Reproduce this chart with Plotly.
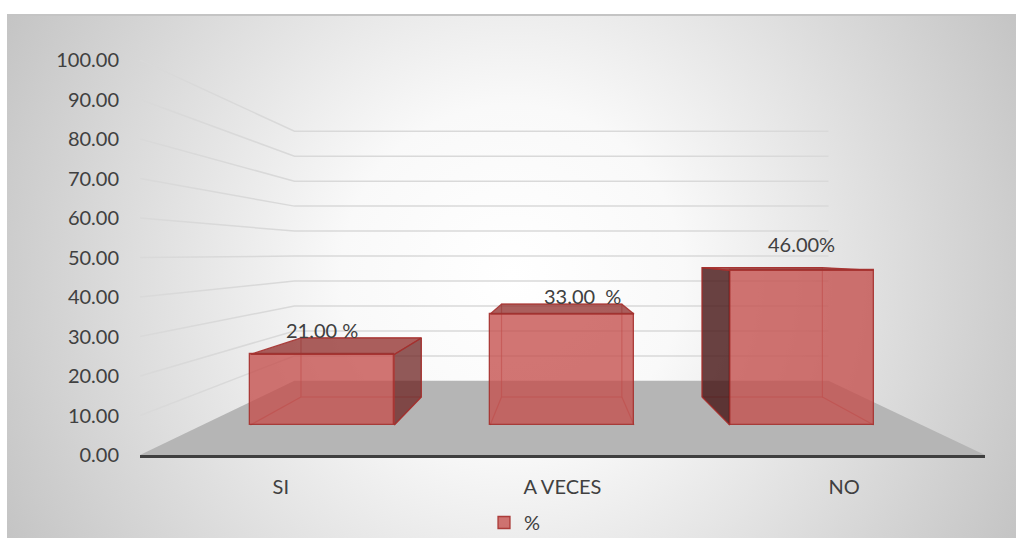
import base64
import plotly.graph_objects as go

# ---------------- data ----------------
categories = ["SI", "A VECES", "NO"]
values = [21.0, 33.0, 46.0]
value_labels = ["21.00 %", "33.00\u00a0\u00a0%", "46.00%"]
y_tick_values = [0, 10, 20, 30, 40, 50, 60, 70, 80, 90, 100]
series_name = "%"

# ---------------- 3D look (perspective) ----------------
VPX, VPY = 0.99, 51.0          # vanishing point in axis units
S_FRONT = 1.0                  # front plane (axis plane)
S_BAR_FRONT = 0.851            # depth scale of bar front faces
S_BAR_BACK = 0.712             # depth scale of bar back faces
S_WALL = 0.632                 # depth scale of back wall
BAR_W = 0.60
X_MIN, X_MAX = -0.5, 2.5

FRONT_FILL = "rgba(196,78,75,0.78)"
TOP_FILL = "rgba(150,55,52,0.80)"
RSIDE_FILL = "rgba(110,35,33,0.75)"
LSIDE_FILL = "rgba(70,20,20,0.80)"
EDGE = "rgba(165,48,45,0.90)"
HIDDEN_EDGE = "rgba(175,60,57,0.55)"
FLOOR = "#b5b5b5"
GRID = "#d9d9d9"
TEXT = "#404040"
FONT = "Lato, Carlito, Calibri, sans-serif"


def proj(X, Y, s):
    return VPX + (X - VPX) * s, VPY + (Y - VPY) * s


def add_poly(xs, ys, pts):
    for p in pts + [pts[0]]:
        xs.append(p[0])
        ys.append(p[1])
    xs.append(None)
    ys.append(None)


def add_seg(xs, ys, pts):
    for p in pts:
        xs.append(p[0])
        ys.append(p[1])
    xs.append(None)
    ys.append(None)


fig = go.Figure()

# floor
fx, fy = [], []
add_poly(fx, fy, [proj(X_MIN, 0, S_FRONT), proj(X_MIN, 0, S_WALL),
                  proj(X_MAX, 0, S_WALL), proj(X_MAX, 0, S_FRONT)])
fig.add_trace(go.Scatter(x=fx, y=fy, mode="lines", fill="toself", fillcolor=FLOOR,
                         line=dict(width=0, color=FLOOR), hoverinfo="skip", showlegend=False))

# gridlines on side wall + back wall
gx, gy = [], []
for t in y_tick_values:
    if t == 0:
        continue
    add_seg(gx, gy, [proj(X_MIN, t, S_FRONT), proj(X_MIN, t, S_WALL), proj(X_MAX, t, S_WALL)])
fig.add_trace(go.Scatter(x=gx, y=gy, mode="lines", line=dict(color=GRID, width=1.5),
                         hoverinfo="skip", showlegend=False))

# hidden edges of bars (seen through transparent faces)
hx, hy = [], []
for i, v in enumerate(values):
    xl, xr = i - BAR_W / 2, i + BAR_W / 2
    add_poly(hx, hy, [proj(xl, 0, S_BAR_BACK), proj(xr, 0, S_BAR_BACK),
                      proj(xr, v, S_BAR_BACK), proj(xl, v, S_BAR_BACK)])
    add_seg(hx, hy, [proj(xl, 0, S_BAR_FRONT), proj(xl, 0, S_BAR_BACK)])
    add_seg(hx, hy, [proj(xr, 0, S_BAR_FRONT), proj(xr, 0, S_BAR_BACK)])
fig.add_trace(go.Scatter(x=hx, y=hy, mode="lines", line=dict(color=HIDDEN_EDGE, width=1.2),
                         hoverinfo="skip", showlegend=False))

# front faces (bars) on overlay axes
bx, bbase, bh, btop = [], [], [], []
for i, v in enumerate(values):
    cx, y0 = proj(i, 0, S_BAR_FRONT)
    _, y1 = proj(i, v, S_BAR_FRONT)
    bx.append(cx)
    bbase.append(y0)
    bh.append(y1 - y0)
    btop.append(y1)
fig.add_trace(go.Bar(x=bx, y=bh, base=bbase, width=[BAR_W * S_BAR_FRONT] * len(values),
                     xaxis="x2", yaxis="y2", name=series_name,
                     marker=dict(color=FRONT_FILL, line=dict(color=EDGE, width=1.3)),
                     hoverinfo="skip", showlegend=True))

# top faces and visible side faces
tx, ty, rx, ry, lx, ly = [], [], [], [], [], []
for i, v in enumerate(values):
    xl, xr = i - BAR_W / 2, i + BAR_W / 2
    add_poly(tx, ty, [proj(xl, v, S_BAR_FRONT), proj(xr, v, S_BAR_FRONT),
                      proj(xr, v, S_BAR_BACK), proj(xl, v, S_BAR_BACK)])
    if xr < VPX:
        add_poly(rx, ry, [proj(xr, 0, S_BAR_FRONT), proj(xr, v, S_BAR_FRONT),
                          proj(xr, v, S_BAR_BACK), proj(xr, 0, S_BAR_BACK)])
    if xl > VPX:
        add_poly(lx, ly, [proj(xl, 0, S_BAR_FRONT), proj(xl, v, S_BAR_FRONT),
                          proj(xl, v, S_BAR_BACK), proj(xl, 0, S_BAR_BACK)])
for xs, ys, col in [(rx, ry, RSIDE_FILL), (lx, ly, LSIDE_FILL), (tx, ty, TOP_FILL)]:
    if xs:
        fig.add_trace(go.Scatter(x=xs, y=ys, mode="lines", fill="toself", fillcolor=col,
                                 line=dict(color=EDGE, width=1.2), xaxis="x2", yaxis="y2",
                                 hoverinfo="skip", showlegend=False))

# data labels
label_xshift = [0, 20, 0]
label_yshift = [24, 18, 26]
for i, v in enumerate(values):
    fig.add_annotation(x=bx[i], y=btop[i], xref="x", yref="y", text=value_labels[i],
                       showarrow=False, xshift=label_xshift[i], yshift=label_yshift[i],
                       yanchor="middle", font=dict(family=FONT, size=20, color=TEXT))

# background (radial gradient frame)
svg = ('<svg xmlns="http://www.w3.org/2000/svg" width="1009" height="524" viewBox="0 0 1009 524" '
       'preserveAspectRatio="none"><defs><radialGradient id="g" gradientUnits="userSpaceOnUse" '
       'cx="505" cy="262" r="570"><stop offset="0" stop-color="#ffffff"/>'
       '<stop offset="0.3" stop-color="#f9f9f9"/><stop offset="1" stop-color="#c4c4c4"/>'
       '</radialGradient></defs><rect width="1009" height="524" fill="url(#g)"/>'
       '<line x1="0" y1="1" x2="1009" y2="1" stroke="#c4c4c4" stroke-width="2"/></svg>')
src = "data:image/svg+xml;base64," + base64.b64encode(svg.encode()).decode()

PW, PH = 845.0, 395.0
fig.add_layout_image(dict(source=src, xref="paper", yref="paper",
                          x=(7 - 140) / PW, y=(455 - 14) / PH,
                          sizex=1009 / PW, sizey=524 / PH,
                          xanchor="left", yanchor="top", sizing="stretch", layer="below"))

fig.update_layout(
    width=1016, height=538,
    margin=dict(l=140, r=31, t=60, b=83, autoexpand=False),
    paper_bgcolor="white", plot_bgcolor="rgba(0,0,0,0)",
    font=dict(family=FONT, size=20, color=TEXT),
    xaxis=dict(range=[X_MIN, X_MAX], tickvals=list(range(len(categories))), ticktext=categories,
               showgrid=False, zeroline=False, showline=True, linecolor="#3f3f3f", linewidth=3,
               ticks="", ticklabelstandoff=12, tickfont=dict(size=20, color=TEXT)),
    yaxis=dict(range=[0, 100], tickvals=y_tick_values, tickformat=".2f", showgrid=False,
               zeroline=False, showline=False, ticks="", ticklabelstandoff=20,
               tickfont=dict(size=20, color=TEXT)),
    xaxis2=dict(range=[X_MIN, X_MAX], overlaying="x", visible=False),
    yaxis2=dict(range=[0, 100], overlaying="y", visible=False),
    legend=dict(orientation="h", x=(484 - 140) / PW, y=(455 - 503) / PH, xanchor="left",
                yanchor="top", bgcolor="rgba(0,0,0,0)", font=dict(size=20, color=TEXT)),
    bargap=0,
)

fig.write_html("out.html", config={"displayModeBar": False},
               post_script="document.body.style.margin='0';")
